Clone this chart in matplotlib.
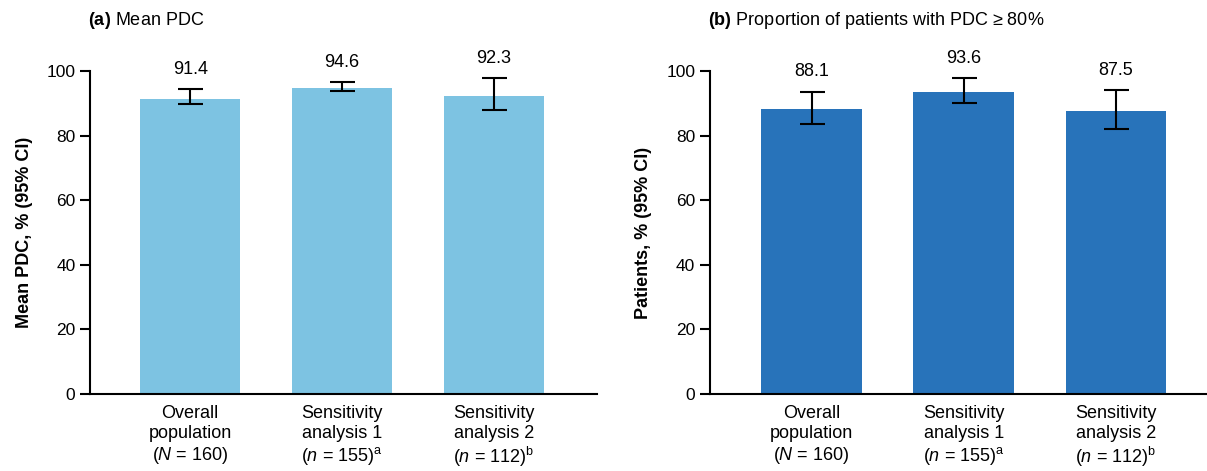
import matplotlib.pyplot as plt
import numpy as np

plt.rcParams['font.family'] = ['Liberation Sans', 'DejaVu Sans']
plt.rcParams['mathtext.fontset'] = 'custom'
plt.rcParams['mathtext.rm'] = 'Liberation Sans'
plt.rcParams['mathtext.it'] = 'Liberation Sans:italic'
plt.rcParams['mathtext.bf'] = 'Liberation Sans:bold'

categories = ['Overall\npopulation\n($\\it{N}$ = 160)',
              'Sensitivity\nanalysis 1\n($\\it{n}$ = 155)$^{\\rm a}$',
              'Sensitivity\nanalysis 2\n($\\it{n}$ = 112)$^{\\rm b}$']

# (a) mean PDC with 95% CI
mean_pdc = [91.4, 94.6, 92.3]
mean_lo = [89.7, 93.9, 87.9]
mean_hi = [94.4, 96.6, 97.8]

# (b) proportion of patients with PDC >= 80%
prop_pdc = [88.1, 93.6, 87.5]
prop_lo = [83.6, 90.2, 81.9]
prop_hi = [93.6, 97.8, 94.1]

fig = plt.figure(figsize=(12.07, 4.71), dpi=100)
ax1 = fig.add_axes([0.0746, 0.1635, 0.420, 0.6857])
ax2 = fig.add_axes([0.588, 0.1635, 0.412, 0.6857])

panels = [
    (ax1, mean_pdc, mean_lo, mean_hi, '#7DC3E2', 'Mean PDC, % (95% CI)', (-0.66, 2.68)),
    (ax2, prop_pdc, prop_lo, prop_hi, '#2873BA', 'Patients, % (95% CI)', (-0.67, 2.6)),
]

for ax, vals, lo, hi, color, ylab, xlim in panels:
    x = np.arange(len(vals))
    vals = np.array(vals)
    err = [vals - np.array(lo), np.array(hi) - vals]
    ax.bar(x, vals, width=0.66, color=color, zorder=1)
    ax.errorbar(x, vals, yerr=err, fmt='none', ecolor='black',
                elinewidth=1.5, capsize=9, capthick=1.5, zorder=2)
    # value label sits a little above the upper CI
    for xi, v, h in zip(x, vals, hi):
        ax.text(xi, h + 3.5, f'{v:.1f}', ha='center', va='bottom', fontsize=13)

    ax.set_xlim(*xlim)
    ax.set_ylim(0, 100)
    ax.set_yticks([0, 20, 40, 60, 80, 100])
    ax.set_xticks(x)
    ax.set_xticklabels(categories, fontsize=13, linespacing=1.2)
    ax.tick_params(axis='x', length=0, pad=8)
    ax.tick_params(axis='y', labelsize=12.5, length=7, width=1.5, direction='out')
    ax.set_ylabel(ylab, fontsize=13, fontweight='bold', labelpad=10)
    ax.spines['top'].set_visible(False)
    ax.spines['right'].set_visible(False)
    ax.spines['left'].set_linewidth(1.5)
    ax.spines['bottom'].set_linewidth(1.5)

fig.text(0.073, 0.956, r'$\mathbf{(a)}$ Mean PDC', fontsize=13, va='center')
fig.text(0.5866, 0.956, r'$\mathbf{(b)}$ Proportion of patients with PDC ≥ 80%', fontsize=13, va='center')

plt.savefig('out.png', dpi=100)
